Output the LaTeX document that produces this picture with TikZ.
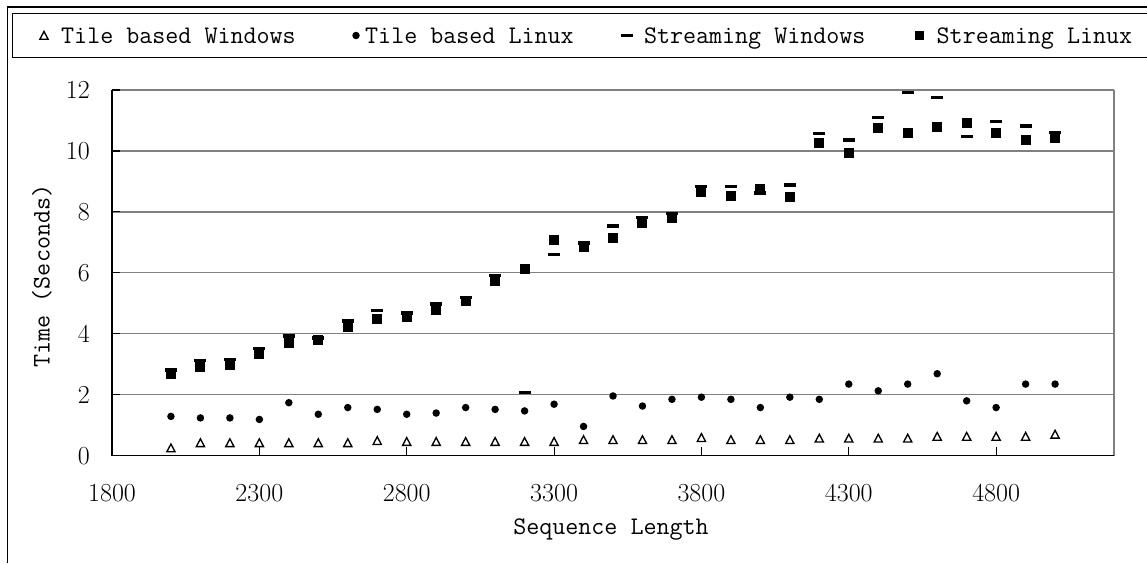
\documentclass[tikz,border=0pt]{standalone}
\tikzset{
  numlbl/.style={font=\fontsize{26}{30}\selectfont, inner sep=0pt},
  wordlbl/.style={font=\fontsize{25.3}{30}\selectfont\ttfamily, inner sep=0pt},
  gridline/.style={draw=gray, line width=1.2pt},
  axisline/.style={draw=black, line width=1.3pt},
  tickline/.style={draw=black, line width=1.1pt},
  trimark/.pic={\draw[line width=1.35pt, line join=miter] (-4.1pt,-3.7pt) -- (4.1pt,-3.7pt) -- (0pt,4.1pt) -- cycle;},
  dotmark/.style={circle, fill=black, minimum size=7.5pt, inner sep=0pt},
  dashmark/.style={rectangle, fill=black, minimum width=12pt, minimum height=3.2pt, inner sep=0pt},
  sqmark/.style={rectangle, fill=black, minimum size=10pt, inner sep=0pt},
}
% plot frame: x from 1800 to 5200, y from 0 to 12
\newcommand\plotX[1]{112+(#1-1800)*0.29471}
\newcommand\plotY[1]{455.7-(#1)*30.475}
\begin{document}
\begin{tikzpicture}[x=1pt, y=-1pt]
\useasboundingbox (0,0) rectangle (1147,563);

% outer chart frame and legend box
\draw[line width=1.5pt] (7.7,563) -- (7.7,7) -- (1147,7);
\draw[line width=1.2pt] (1147,13.4) -- (12.6,13.4) -- (12.6,57.4) -- (1147,57.4);

% legend
\pic (legtw) at (44,35.5) {trimark};
\node[wordlbl, anchor=base west] (legtwt) at (61,43) {Tile based Windows};
\node[dotmark] (legtl) at (356,35.5) {};
\node[wordlbl, anchor=base west] (legtlt) at (365,43) {Tile based Linux};
\node[dashmark] (legsw) at (626.5,35.5) {};
\node[wordlbl, anchor=base west] (legswt) at (643.8,43) {Streaming Windows};
\node[sqmark, minimum size=9pt] (legsl) at (919,35.5) {};
\node[wordlbl, anchor=base west] (legslt) at (936.5,43) {Streaming Linux};

% grid lines and right border
\foreach \v in {2,4,...,12}
  \draw[gridline] (112,{\plotY{\v}}) -- (1114,{\plotY{\v}});
\draw[gridline] (1114,{\plotY{12}}) -- (1114,{\plotY{0}});

% axes
\draw[axisline] (112,{\plotY{12}}) -- (112,{\plotY{0}}) -- (1114,{\plotY{0}});
\foreach \v in {0,2,...,12}{
  \draw[tickline] (112,{\plotY{\v}}) -- (119.7,{\plotY{\v}});
  \node[numlbl, anchor=east] (ylab\v) at (90,{\plotY{\v}}) {\v};
}
\foreach \X in {2300,2800,...,4800}
  \draw[tickline] ({\plotX{\X}},{\plotY{0}}) -- ({\plotX{\X}},447);
\foreach \X in {1800,2300,...,4800}
  \node[numlbl] (xlab\X) at ({\plotX{\X}},493) {\X};

% axis titles
\node[wordlbl] (xtitle) at (611,530) {Sequence Length};
\node[wordlbl, rotate=90] (ytitle) at (42,276) {Time (Seconds)};

% Tile based Windows
\foreach \X/\v in {2000/0.25,2100/0.42,2200/0.42,2300/0.42,2400/0.42,2500/0.42,2600/0.42,2700/0.49,2800/0.46,2900/0.46,3000/0.46,3100/0.46,3200/0.46,3300/0.46,3400/0.52,3500/0.52,3600/0.52,3700/0.52,3800/0.59,3900/0.52,4000/0.52,4100/0.52,4200/0.57,4300/0.57,4400/0.57,4500/0.57,4600/0.63,4700/0.63,4800/0.63,4900/0.63,5000/0.70}
  \pic (tw\X) at ({\plotX{\X}},{\plotY{\v}}) {trimark};

% Tile based Linux
\foreach \X/\v in {2000/1.29,2100/1.24,2200/1.24,2300/1.19,2400/1.74,2500/1.36,2600/1.58,2700/1.52,2800/1.36,2900/1.40,3000/1.58,3100/1.52,3200/1.47,3300/1.69,3400/0.96,3500/1.96,3600/1.63,3700/1.85,3800/1.92,3900/1.85,4000/1.58,4100/1.92,4200/1.85,4300/2.35,4400/2.13,4500/2.35,4600/2.69,4700/1.80,4800/1.58,4900/2.35,5000/2.35}
  \node[dotmark] (tl\X) at ({\plotX{\X}},{\plotY{\v}}) {};

% Streaming Windows
\foreach \X/\v in {2000/2.81,2100/3.12,2200/3.17,2300/3.52,2400/3.93,2500/3.86,2600/4.42,2700/4.76,2800/4.68,2900/4.98,3000/5.18,3100/5.92,3200/2.08,3300/6.59,3400/6.98,3500/7.54,3600/7.81,3700/7.95,3800/8.83,3900/8.83,4000/8.62,4100/8.88,4200/10.56,4300/10.36,4400/11.09,4500/11.93,4600/11.76,4700/10.47,4800/10.97,4900/10.82,5000/10.60}
  \node[dashmark] (sw\X) at ({\plotX{\X}},{\plotY{\v}}) {};

% Streaming Linux
\foreach \X/\v in {2000/2.68,2100/2.91,2200/2.99,2300/3.34,2400/3.71,2500/3.79,2600/4.22,2700/4.49,2800/4.54,2900/4.77,3000/5.08,3100/5.72,3200/6.14,3300/7.09,3400/6.86,3500/7.13,3600/7.64,3700/7.79,3800/8.66,3900/8.53,4000/8.74,4100/8.48,4200/10.27,4300/9.92,4400/10.74,4500/10.58,4600/10.80,4700/10.91,4800/10.58,4900/10.36,5000/10.43}
  \node[sqmark] (sl\X) at ({\plotX{\X}},{\plotY{\v}}) {};
\end{tikzpicture}
\end{document}
